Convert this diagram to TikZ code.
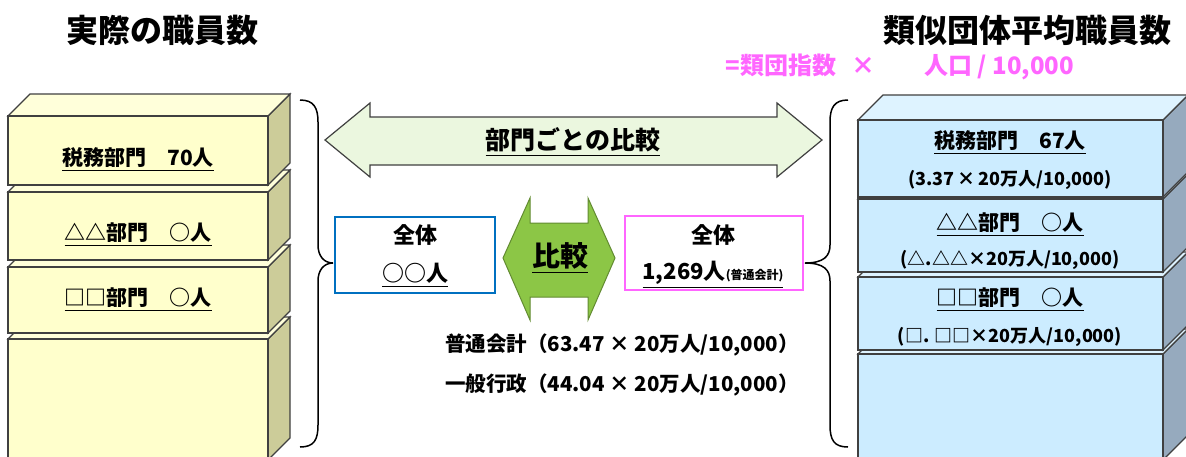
\documentclass[tikz,border=0pt]{standalone}
\usepackage{fontspec}
\setmainfont{Noto Sans CJK JP}
\usepackage{tikz}
\usepackage{amsmath}

\definecolor{edge}{RGB}{64,64,64}
\definecolor{lfrontc}{RGB}{255,255,204}
\definecolor{ltopc}{RGB}{255,255,218}
\definecolor{lsidec}{RGB}{204,204,153}
\definecolor{rfrontc}{RGB}{204,236,255}
\definecolor{rtopc}{RGB}{222,243,255}
\definecolor{rsidec}{RGB}{150,170,190}
\definecolor{pinkc}{RGB}{255,102,255}
\definecolor{bluec}{RGB}{0,112,192}
\definecolor{palegreen}{RGB}{235,247,223}
\definecolor{midgreen}{RGB}{140,198,70}

\tikzset{
  lfront/.style={fill=lfrontc,draw=edge,line width=1.2pt},
  ltop/.style={fill=ltopc,draw=edge,line width=1.2pt},
  lside/.style={fill=lsidec,draw=edge,line width=1.2pt},
  rfront/.style={fill=rfrontc,draw=edge,line width=1.2pt},
  rtop/.style={fill=rtopc,draw=edge,line width=1.2pt},
  rside/.style={fill=rsidec,draw=edge,line width=1.2pt},
  headline/.style={font=\fontsize{32}{38}\selectfont\bfseries},
  abteilung/.style={font=\fontsize{21}{25}\selectfont\bfseries},
  formel/.style={font=\fontsize{18}{21}\selectfont\bfseries},
  mitte/.style={font=\fontsize{22}{26}\selectfont\bfseries},
  unten/.style={font=\fontsize{20.5}{24}\selectfont\bfseries},
  klammer/.style={line width=1.5pt,draw=black}
}

% block: x, top, width, bottom, depth, colour prefix
\newcommand\quader[6]{%
  \filldraw[#6side] (#1+#3,#2) -- ++(#5,-#5) -- ++(0,#4-#2) -- (#1+#3,#4) -- cycle;
  \filldraw[#6top] (#1,#2) -- ++(#5,-#5) -- ++(#3,0) -- (#1+#3,#2) -- cycle;
  \filldraw[#6front] (#1,#2) rectangle (#1+#3,#4);}

\begin{document}
\begin{tikzpicture}[x=1pt,y=-1pt]
\clip (0,0) rectangle (1186,456);
\fill[white] (0,0) rectangle (1186,456);

\node[headline] (tist) at (162,30) {実際の職員数};
\node[headline] (tsoll) at (1027,30) {類似団体平均職員数};
\node[font=\fontsize{24}{28}\selectfont\bfseries,text=pinkc] (formel) at (900,67)
  {=類団指数\hspace{15pt}{}×{}\hspace{49pt}人口 / 10,000};

% left stack
\quader{8}{339}{260}{460}{22}{l}
\quader{8}{267}{260}{333}{22}{l}
\quader{8}{192}{260}{260}{22}{l}
\quader{8}{116}{260}{185}{22}{l}
\node[abteilung] (lsteuer) at (138,160) {\underline{税務部門　70人}};
\node[abteilung] (ldreieck) at (138,235) {\underline{△△部門　○人}};
\node[abteilung] (lquadrat) at (138,300) {\underline{□□部門　○人}};

% right stack
\quader{858}{354}{305}{460}{25}{r}
\quader{858}{277}{305}{350}{25}{r}
\quader{858}{199}{305}{272}{25}{r}
\quader{858}{120}{305}{197}{25}{r}
\node[abteilung] (rsteuer) at (1010,143) {\underline{税務部門　67人}};
\node[formel] (rsteuerf) at (1010,180) {(3.37\,{}×{}\,20万人/10,000)};
\node[abteilung] (rdreieck) at (1010,225) {\underline{△△部門　○人}};
\node[formel] (rdreieckf) at (1010,260) {(△.△△{}×{}20万人/10,000)};
\node[abteilung] (rquadrat) at (1010,300) {\underline{□□部門　○人}};
\node[formel] (rquadratf) at (1010,337) {(□. □□{}×{}20万人/10,000)};

% braces
\draw[klammer] (300,100) .. controls (314,100) and (318,108) .. (318,122) -- (318,245)
  .. controls (318,256) and (324,263) .. (333,263) .. controls (324,263) and (318,270) .. (318,281)
  -- (318,425) .. controls (318,440) and (314,447) .. (300,447);
\draw[klammer] (848,100) .. controls (834,100) and (830,108) .. (830,122) -- (830,245)
  .. controls (830,256) and (824,263) .. (805,263) .. controls (824,263) and (830,270) .. (830,281)
  -- (830,425) .. controls (830,440) and (834,447) .. (848,447);

% comparison arrows
\filldraw[fill=palegreen,draw=edge,line width=1.2pt] (325,140) -- (370,103) -- (370,117) -- (777,117)
  -- (777,103) -- (822,140) -- (777,177) -- (777,165) -- (370,165) -- (370,177) -- cycle;
\node[font=\fontsize{25}{29}\selectfont\bfseries] (bumon) at (573,142) {\underline{部門ごとの比較}};
\filldraw[fill=midgreen,draw=midgreen!70!black,line width=1pt] (503,258) -- (530,198) -- (530,223) -- (588,223)
  -- (588,198) -- (615,258) -- (588,320) -- (588,297) -- (530,297) -- (530,320) -- cycle;
\node[font=\fontsize{28}{32}\selectfont\bfseries] (hikaku) at (560,258) {\underline{比較}};

% totals
\node[draw=bluec,line width=2.5pt,minimum width=160pt,minimum height=76pt] (ist) at (415,255) {};
\node[mitte] (istkopf) at (415,235) {全体};
\node[mitte] (istzahl) at (415,275) {\underline{○○人}};
\node[draw=pinkc,line width=2.5pt,minimum width=178pt,minimum height=74pt] (soll) at (714,253) {};
\node[mitte] (sollkopf) at (713,235) {全体};
\node[mitte] (sollzahl) at (713,275) {\underline{1,269人{\fontsize{12}{13}\selectfont(普通会計)}}};

\node[unten] (futsuu) at (622,345) {普通会計（63.47{} × {}20万人/10,000）};
\node[unten] (ippan) at (622,385) {一般行政（44.04{} × {}20万人/10,000）};
\end{tikzpicture}
\end{document}
